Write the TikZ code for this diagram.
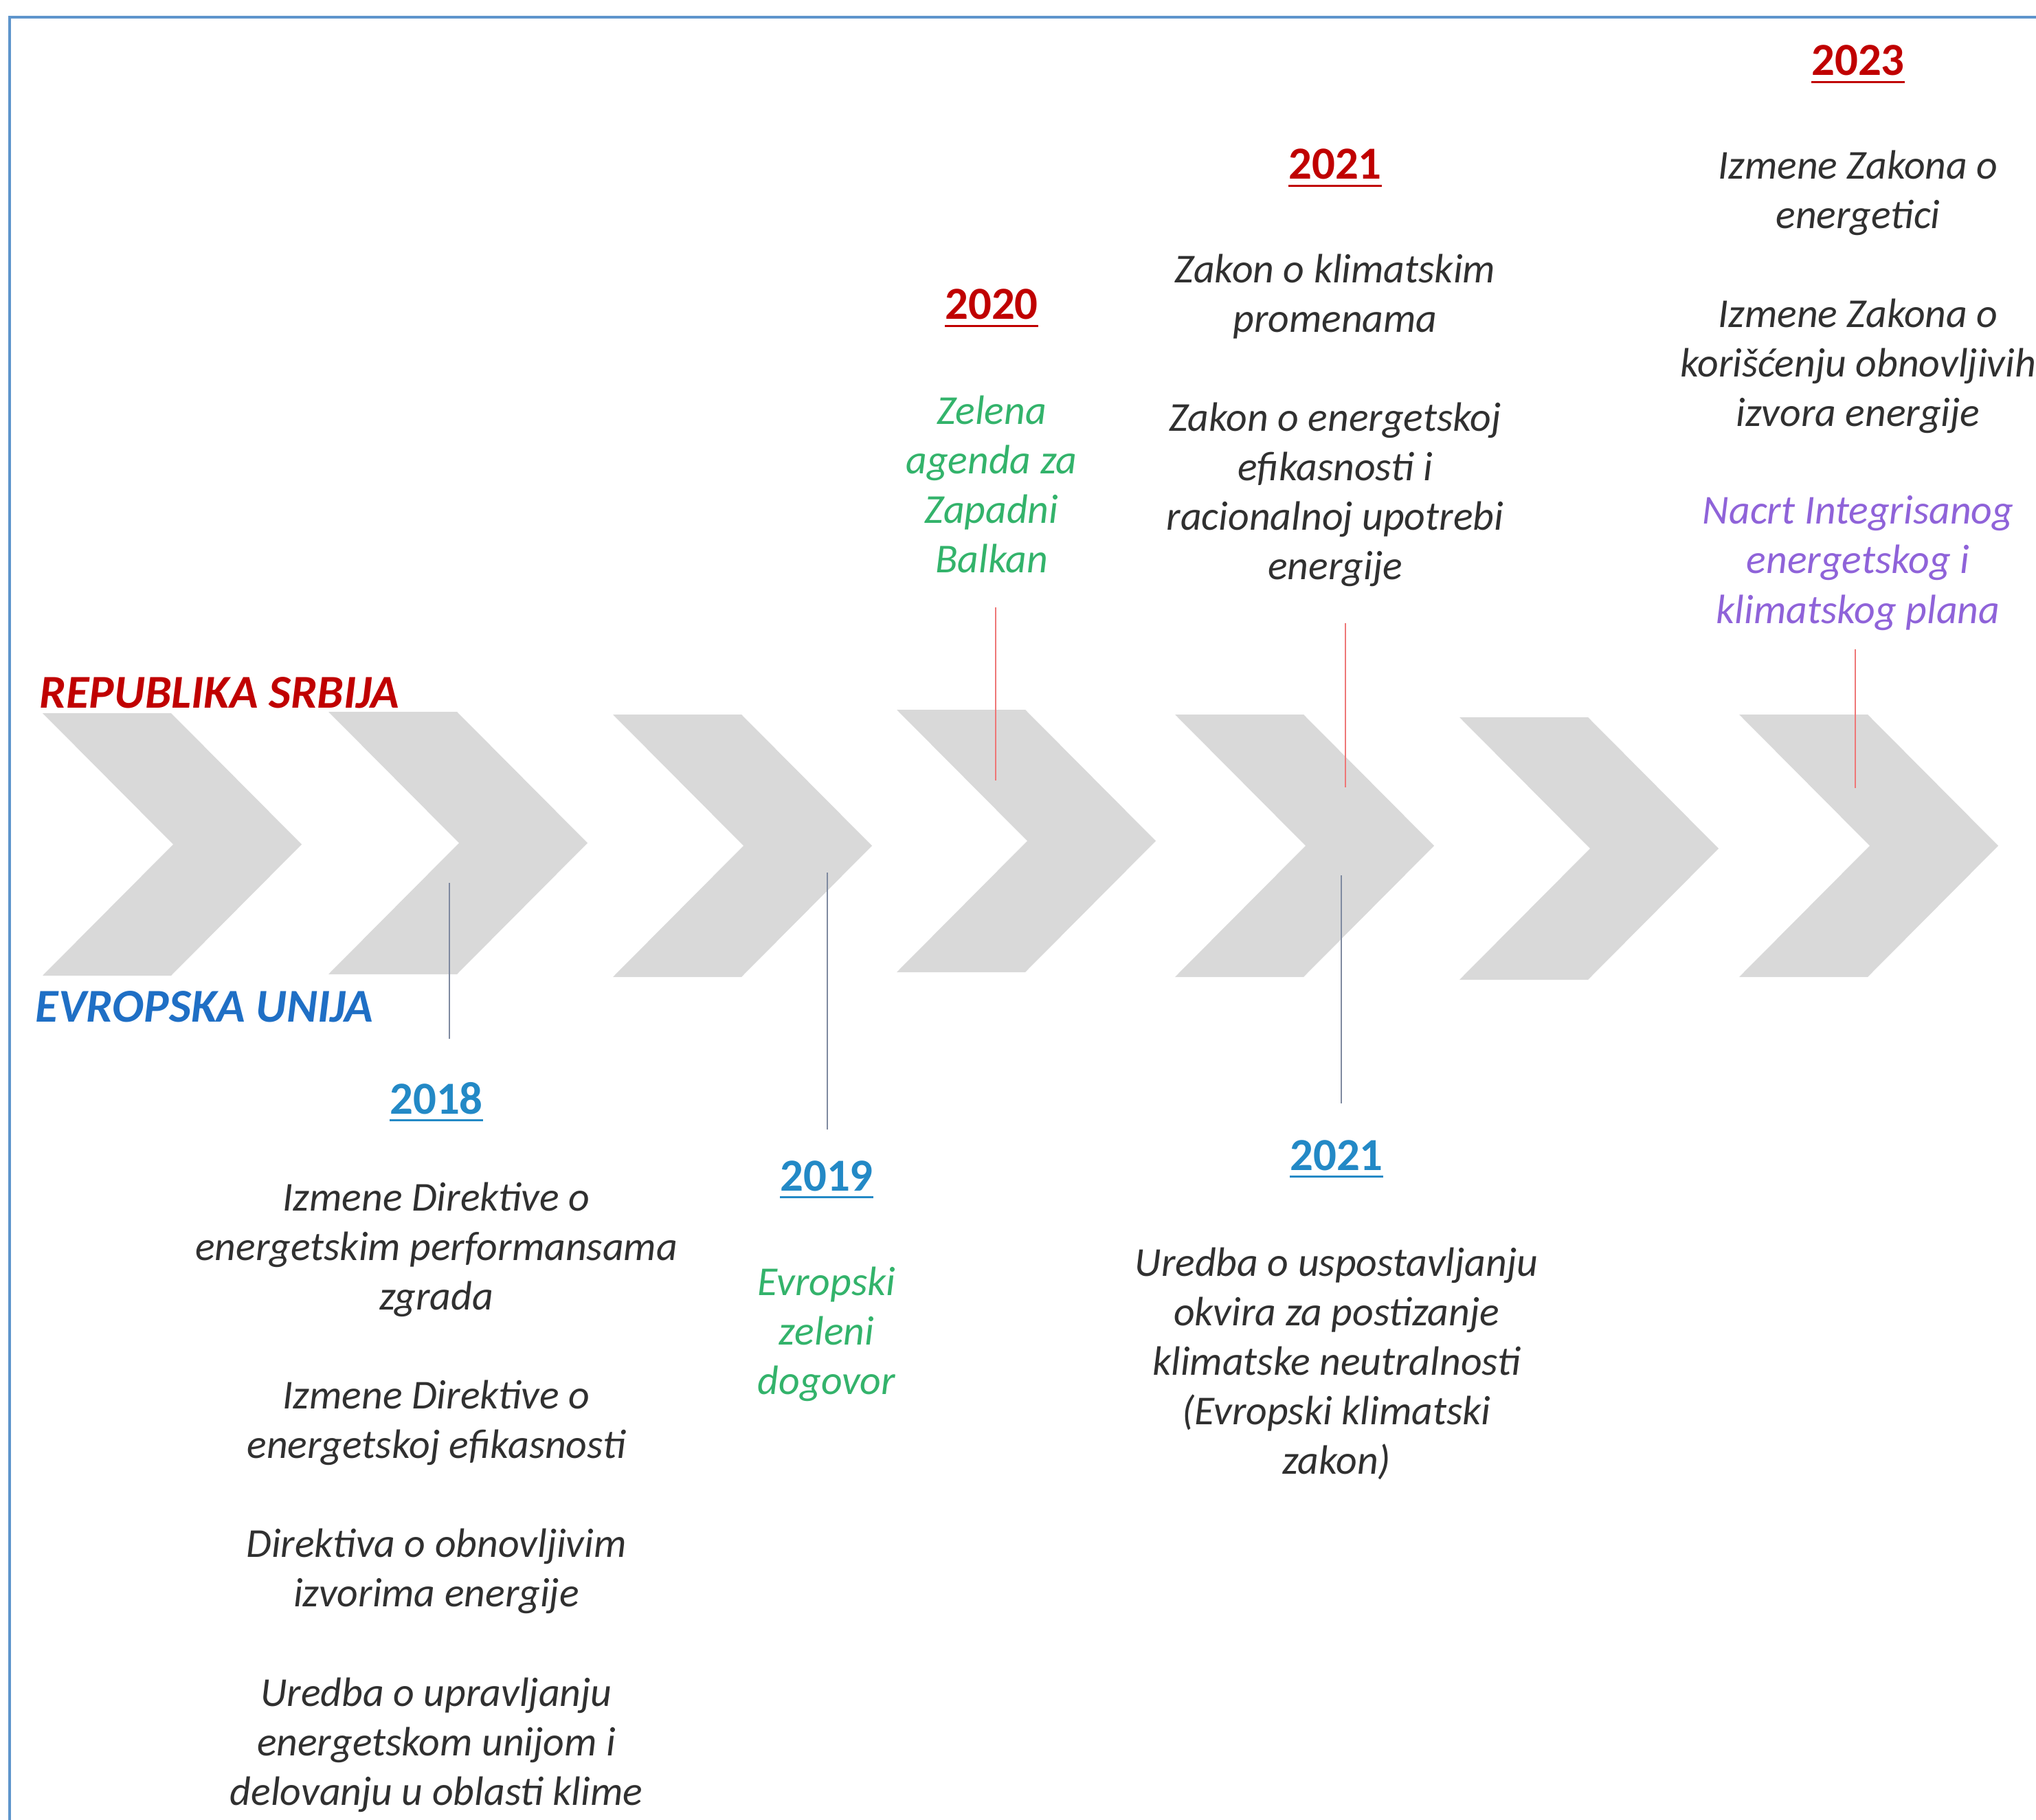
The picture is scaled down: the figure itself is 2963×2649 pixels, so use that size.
\documentclass[tikz,border=0pt]{standalone}
\usepackage{fontspec}
\setmainfont{Carlito}
\definecolor{rsred}{HTML}{C00000}
\definecolor{euyear}{HTML}{2389C6}
\definecolor{eublue}{HTML}{1F6FC5}
\definecolor{grn}{HTML}{33B36B}
\definecolor{purp}{HTML}{8F63D9}
\definecolor{txt}{HTML}{303030}
\definecolor{chevgray}{HTML}{D9D9D9}
\definecolor{redline}{HTML}{EE7777}
\definecolor{blueline}{HTML}{7F8AA0}
\definecolor{frame}{HTML}{5E95CC}
\newcommand{\yrline}[1]{\setbox0\hbox{#1}\rlap{\rule[-3.2pt]{\wd0}{0.9pt}}\box0}
\tikzset{
  body/.style={font=\fontsize{17}{20.5}\selectfont\itshape, text=txt, align=center, inner sep=0pt, anchor=north},
  yearlbl/.style={font=\fontsize{19}{23}\selectfont\bfseries, inner sep=0pt, anchor=base},
  heading/.style={font=\fontsize{19.5}{23}\selectfont\bfseries\itshape, inner sep=0pt, anchor=base west},
  chev/.style={fill=chevgray, draw=none},
  rline/.style={draw=redline, line width=0.7pt},
  bline/.style={draw=blueline, line width=0.7pt}
}
\begin{document}
\begin{tikzpicture}[x=0.01cm,y=-0.01cm]
\useasboundingbox (0,0) rectangle (2963,2649);
\fill[white] (0,0) rectangle (2963,2649);
% frame (top and left edges visible)
\draw[frame, line width=1.1pt] (14,2649) -- (14,25) -- (2963,25);

% chevrons
\foreach \x/\t in {62/1038, 478/1036, 892/1040, 1305/1033, 1710/1040, 2124/1044, 2531/1040}
  \fill[chev] (\x,\t) -- ++(187,0) -- ++(190,191) -- ++(-190,191) -- ++(-187,0) -- ++(190,-191) -- cycle;

% headings
\node[heading, text=rsred] (rs) at (57,1030) {REPUBLIKA SRBIJA};
\node[heading, text=eublue] (eu) at (51,1487) {EVROPSKA UNIJA};

% Republika Srbija years
\node[yearlbl, text=rsred] (y2020) at (1443,465) {\yrline{2020}};
\node[yearlbl, text=rsred] (y2021rs) at (1943,261) {\yrline{2021}};
\node[yearlbl, text=rsred] (y2023) at (2704,110) {\yrline{2023}};

\node[body, text=grn] (t2020) at (1443,575) {Zelena\\agenda za\\Zapadni\\Balkan};
\node[body] (t2021rs) at (1943,369) {Zakon o klimatskim\\promenama\\[20.5pt]Zakon o energetskoj\\efikasnosti i\\racionalnoj upotrebi\\energije};
\node[body] (t2023) at (2704,218) {Izmene Zakona o\\energetici\\[20.5pt]Izmene Zakona o\\korišćenju obnovljivih\\izvora energije};
\node[body, text=purp] (t2023b) at (2704,721) {Nacrt Integrisanog\\energetskog i\\klimatskog plana};

% Evropska unija years
\node[yearlbl, text=euyear] (y2018) at (635,1621) {\yrline{2018}};
\node[yearlbl, text=euyear] (y2019) at (1203,1733) {\yrline{2019}};
\node[yearlbl, text=euyear] (y2021eu) at (1945,1703) {\yrline{2021}};

\node[body] (t2018) at (635,1720) {Izmene Direktive o\\energetskim performansama\\zgrada\\[20.5pt]Izmene Direktive o\\energetskoj efikasnosti\\[20.5pt]Direktiva o obnovljivim\\izvorima energije\\[20.5pt]Uredba o upravljanju\\energetskom unijom i\\delovanju u oblasti klime};
\node[body, text=grn] (t2019) at (1203,1843) {Evropski\\zeleni\\dogovor};
\node[body] (t2021eu) at (1945,1815) {Uredba o uspostavljanju\\okvira za postizanje\\klimatske neutralnosti\\(Evropski klimatski\\zakon)};

% connector lines
\coordinate (r20a) at (1449,884);  \coordinate (r20b) at (1449,1136);
\coordinate (r21a) at (1958,907);  \coordinate (r21b) at (1958,1146);
\coordinate (r23a) at (2700,945);  \coordinate (r23b) at (2700,1147);
\coordinate (b18a) at (654,1285);  \coordinate (b18b) at (654,1512);
\coordinate (b19a) at (1204,1270); \coordinate (b19b) at (1204,1644);
\coordinate (b21a) at (1952,1274); \coordinate (b21b) at (1952,1606);
\draw[rline] (r20a) -- (r20b);
\draw[rline] (r21a) -- (r21b);
\draw[rline] (r23a) -- (r23b);
\draw[bline] (b18a) -- (b18b);
\draw[bline] (b19a) -- (b19b);
\draw[bline] (b21a) -- (b21b);
\end{tikzpicture}
\end{document}
